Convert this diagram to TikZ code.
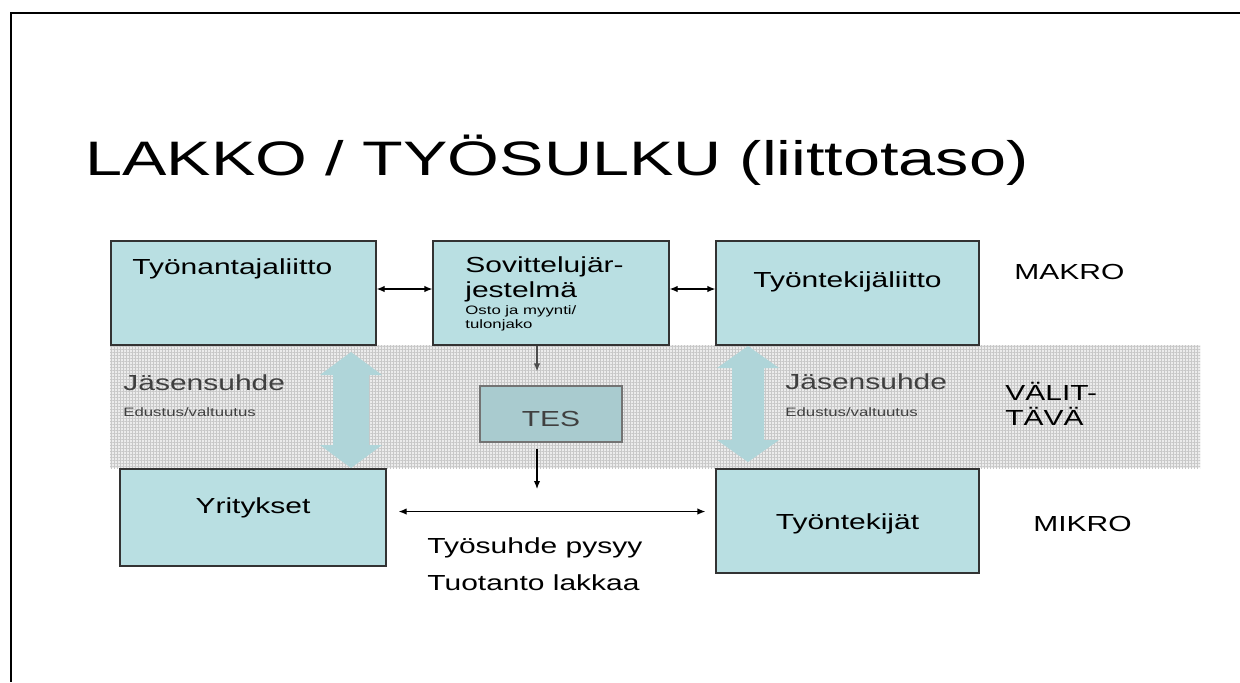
\documentclass[tikz,border=0pt]{standalone}
\usepackage{fontspec}
\setmainfont{Liberation Sans}[FakeStretch=1.375]
\usetikzlibrary{arrows.meta,patterns.meta}
\definecolor{boxblue}{HTML}{B9DFE2}
\definecolor{arrowblue}{HTML}{AFD5D9}
\definecolor{tesfill}{HTML}{A9CBCF}
\definecolor{bandgray}{HTML}{ECECEC}
\definecolor{gridgray}{HTML}{C8C8C8}
\definecolor{graytext}{HTML}{404040}
\begin{document}
\begin{tikzpicture}[x=0.5pt,y=-0.5pt,
  box/.style={draw=black!80, line width=0.6pt, fill=boxblue, inner sep=0pt},
  lbl/.style={anchor=base west, inner sep=0pt, font=\fontsize{10.9pt}{13pt}\selectfont},
  clbl/.style={anchor=base, inner sep=0pt, font=\fontsize{10.9pt}{13pt}\selectfont},
  small/.style={anchor=base west, inner sep=0pt, font=\fontsize{6.1pt}{7pt}\selectfont},
  conn/.style={-{Latex[length=4pt,width=3.2pt]}, line width=0.6pt},
  dconn/.style={{Latex[length=4pt,width=3.2pt]}-{Latex[length=4pt,width=3.2pt]}, line width=0.6pt},
  ]
\useasboundingbox (0,0) rectangle (1240,682);
% frame
\draw[line width=1pt] (1240,13) -- (11,13) -- (11,682);
% title
\node[anchor=base west, inner sep=0pt, font=\fontsize{24.2pt}{29pt}\selectfont] (title) at (85,175) {LAKKO / TYÖSULKU (liittotaso)};
% band
\fill[bandgray] (110,345) rectangle (1200,468);
\fill[pattern={Lines[distance=1.5pt,line width=0.2pt]}, pattern color=gridgray] (110,345) rectangle (1200,468);
\fill[pattern={Lines[distance=1.5pt,angle=90,line width=0.2pt]}, pattern color=gridgray] (110,345) rectangle (1200,468);
% top boxes
\node[box, minimum width=132.5pt, minimum height=52pt] (ta) at (243.5,293) {};
\node[box, minimum width=118pt, minimum height=52pt] (sov) at (551,293) {};
\node[box, minimum width=131.5pt, minimum height=52pt] (tl) at (847.5,293) {};
% TES box
\node[draw=black!55, line width=0.6pt, fill=tesfill, inner sep=0pt, minimum width=71pt, minimum height=28pt] (tes) at (551,414) {};
% bottom boxes
\node[box, minimum width=133pt, minimum height=48.5pt] (yr) at (253,517.5) {};
\node[box, minimum width=131.5pt, minimum height=52pt] (tt) at (847.5,521) {};
% light blue double arrows
\fill[arrowblue] (351,352) -- (382,375) -- (369,375) -- (369,445) -- (382,445) -- (351,468) -- (320,445) -- (333,445) -- (333,375) -- (320,375) -- cycle;
\fill[arrowblue] (748,346) -- (779,368) -- (764,368) -- (764,440) -- (779,440) -- (748,462) -- (717,440) -- (732,440) -- (732,368) -- (717,368) -- cycle;
% labels in boxes
\node[lbl] (talbl) at (132,274) {Työnantajaliitto};
\node[lbl] (sovlbl1) at (465,272) {Sovittelujär-};
\node[lbl] (sovlbl2) at (465,297) {jestelmä};
\node[small] (sovlbl3) at (465,314) {Osto ja myynti/};
\node[small] (sovlbl4) at (465,328) {tulonjako};
\node[clbl] (tllbl) at (847.5,287) {Työntekijäliitto};
\node[clbl, text=graytext] (teslbl) at (551,426) {TES};
\node[clbl] (yrlbl) at (253,513) {Yritykset};
\node[clbl] (ttlbl) at (847.5,529) {Työntekijät};
% side labels
\node[lbl] (makro) at (1014,279) {MAKRO};
\node[lbl] (valit1) at (1005,400) {VÄLIT-};
\node[lbl] (valit2) at (1005,425) {TÄVÄ};
\node[lbl] (mikro) at (1033,531) {MIKRO};
% band labels
\node[lbl, text=graytext] (jas1) at (123,390) {Jäsensuhde};
\node[small, text=graytext] (edu1) at (123,416) {Edustus/valtuutus};
\node[lbl, text=graytext] (jas2) at (785,389) {Jäsensuhde};
\node[small, text=graytext] (edu2) at (785,416) {Edustus/valtuutus};
% bottom texts
\node[lbl] (pysyy) at (427,553) {Työsuhde pysyy};
\node[lbl] (lakkaa) at (427,590) {Tuotanto lakkaa};
% connectors
\draw[dconn] ([yshift=2pt]ta.east) -- ([yshift=2pt]sov.west);
\draw[dconn] ([yshift=2pt]sov.east) -- ([yshift=2pt]tl.west);
\draw[conn, draw=black!70, shorten >=7pt] ([xshift=-7pt]sov.south) -- ([xshift=-7pt]tes.north);
\coordinate (tesdown) at (537,489);
\draw[conn, shorten <=3pt] ([xshift=-7pt]tes.south) -- (tesdown);
\draw[dconn] ([xshift=6pt,yshift=3pt]yr.east) -- ([xshift=-5pt,yshift=3pt]yr.east -| tt.west);
\end{tikzpicture}
\end{document}
